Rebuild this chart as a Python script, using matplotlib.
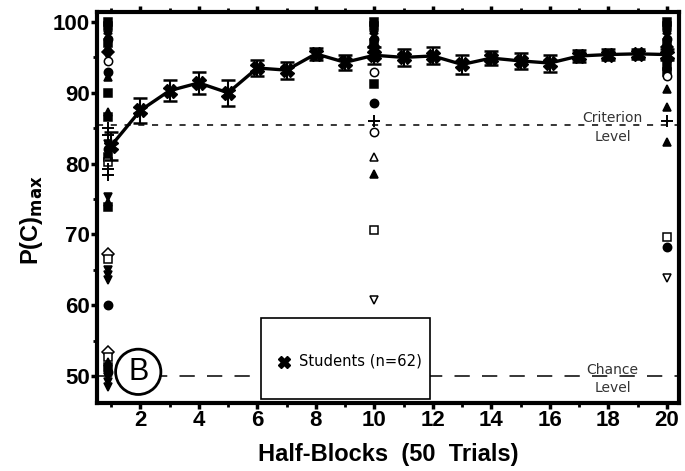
import matplotlib
matplotlib.use('Agg')
import matplotlib.pyplot as plt
from matplotlib.patches import Rectangle

plt.rcParams['font.family'] = ['Liberation Sans', 'DejaVu Sans']

# mean curve for the students
bloques = list(range(1, 21))
media = [82.5, 87.5, 90.3, 91.4, 90.0, 93.5, 93.2, 95.5, 94.3, 95.3,
         95.0, 95.2, 94.0, 94.9, 94.5, 94.2, 95.2, 95.4, 95.5, 95.4]
error = [2.0, 1.8, 1.5, 1.5, 1.8, 1.1, 1.2, 0.8, 1.1, 1.2,
         1.2, 1.2, 1.3, 1.0, 1.1, 1.2, 0.8, 0.8, 0.7, 0.8]

# individual subjects at half-blocks 1, 10 and 20
col1_x = 0.9
col1_vals = [100, 99.4, 98.8, 98.2, 97.6, 97.0, 96.4, 95.8, 95.2, 94.5, 93.0, 92.3,
             90.0, 87.3, 86.6, 85.0, 84.0, 82.8, 82.0, 81.0, 80.2, 79.2, 78.4,
             75.3, 74.6, 73.9, 67.2, 66.5, 65.0, 64.3, 63.6, 60.0,
             53.4, 52.7, 52.0, 51.3, 50.6, 49.9, 49.2, 48.5]
col1_marks = ['s', 's', '^', 'v', 'o', 's', '^', 'D', 'v', 'o', 'o', '^',
              's', '^', 's', '+', '+', 'v', 'o', 's', 's', '+', '+',
              'v', '^', 's', 'D', 's', 'v', 'v', 'v', 'o',
              'D', 's', '^', 's', 'o', 'v', 'v', 'v']
col1_open = [0, 0, 0, 0, 0, 0, 0, 0, 0, 1, 0, 0,
             0, 0, 0, 0, 0, 0, 0, 0, 1, 0, 0,
             0, 0, 0, 1, 1, 0, 0, 0, 0,
             1, 1, 0, 0, 0, 0, 0, 0]

col10_x = 10
col10_vals = [100, 99.4, 98.8, 98.2, 97.6, 97.0, 96.4, 95.7, 95.0, 93.0, 91.2,
              88.6, 86.0, 84.5, 81.0, 78.5, 70.6, 60.8]
col10_marks = ['s', 's', '^', 'v', 'o', 's', 'D', '^', 'o', 'o', 's',
               'o', '+', 'o', '^', '^', 's', 'v']
col10_open = [0, 0, 0, 0, 0, 0, 0, 0, 0, 1, 0,
              0, 0, 1, 1, 0, 1, 1]

col20_x = 20
col20_vals = [100, 99.4, 98.8, 98.2, 97.6, 97.0, 96.4, 95.6, 94.8, 93.8, 93.0,
              92.4, 90.5, 88.0, 86.0, 83.0, 69.6, 68.2, 63.8]
col20_marks = ['s', 's', '^', 'v', 'o', 's', 'D', '^', 'o', 's', 's',
               'o', '^', '^', '+', '^', 's', 'o', 'v']
col20_open = [0, 0, 0, 0, 0, 0, 0, 0, 0, 0, 0,
              1, 0, 0, 0, 0, 1, 0, 1]

criterio = 85.4
azar = 50.0

fig = plt.figure(figsize=(6.85, 4.71), dpi=100)
ax = fig.add_axes([0.1416, 0.1444, 0.849, 0.830])

# reference lines
ax.axhline(criterio, color='black', lw=1.1, dashes=(4, 5))
ax.axhline(azar, color='black', lw=1.1, dashes=(10, 8))

# individual subjects
for cx, vals, marks, abiertos in [(col1_x, col1_vals, col1_marks, col1_open),
                                  (col10_x, col10_vals, col10_marks, col10_open),
                                  (col20_x, col20_vals, col20_marks, col20_open)]:
    for v, m, a in zip(vals, marks, abiertos):
        if m == '+':
            ax.plot(cx, v, marker='+', color='black', ms=8, mew=1.4, zorder=4)
        else:
            ax.plot(cx, v, marker=m, mfc='white' if a else 'black', mec='black',
                    ms=6, mew=1.1, zorder=4)

# mean curve
ax.errorbar(bloques, media, yerr=error, color='black', lw=2.4, marker='X',
            ms=10, mfc='black', mec='black', capsize=5, capthick=1.8,
            elinewidth=1.5, zorder=5)

# level labels
for xx, yy, txt in [(18.15, 86.4, 'Criterion'), (18.15, 83.8, 'Level'),
                    (18.15, 50.9, 'Chance'), (18.15, 48.3, 'Level')]:
    ax.text(xx, yy, txt, ha='center', va='center', fontsize=10,
            family='DejaVu Sans', color='#333333')

# legend box
ax.add_patch(Rectangle((0.282, 0.01), 0.29, 0.207, transform=ax.transAxes,
                       fill=True, fc='white', ec='black', lw=1.2, zorder=6))
ax.plot([0.322], [0.105], transform=ax.transAxes, marker='X', ms=9,
        color='black', zorder=7)
ax.text(0.347, 0.108, 'Students (n=62)', transform=ax.transAxes, ha='left',
        va='center', fontsize=10.6, family='DejaVu Sans', zorder=7)

# circled panel letter
ax.text(1.93, 50.6, 'B', ha='center', va='center', fontsize=22, zorder=8,
        bbox=dict(boxstyle='circle,pad=0.25', fc='white', ec='black', lw=2))

ax.set_xlim(0.52, 20.4)
ax.set_ylim(46.2, 101.4)
ax.set_xticks(range(2, 21, 2))
ax.set_xticks(range(1, 21), minor=True)
ax.set_yticks(range(50, 101, 10))
ax.set_yticks(range(50, 101, 5), minor=True)
ax.tick_params(axis='both', which='major', labelsize=16, width=2.5, length=4,
               direction='out', top=True, pad=1)
ax.tick_params(axis='both', which='minor', width=2, length=3,
               direction='out', top=True)
for lab in ax.get_xticklabels() + ax.get_yticklabels():
    lab.set_fontweight('bold')
for s in ax.spines.values():
    s.set_linewidth(3)

ax.set_xlabel('Half-Blocks  (50  Trials)', fontsize=17, fontweight='bold', labelpad=9)
ax.set_ylabel(r'P(C)$_{\mathbf{max}}$', fontsize=17, fontweight='bold')
ax.yaxis.set_label_coords(-0.089, 0.468)

fig.savefig('out.png', dpi=100)
